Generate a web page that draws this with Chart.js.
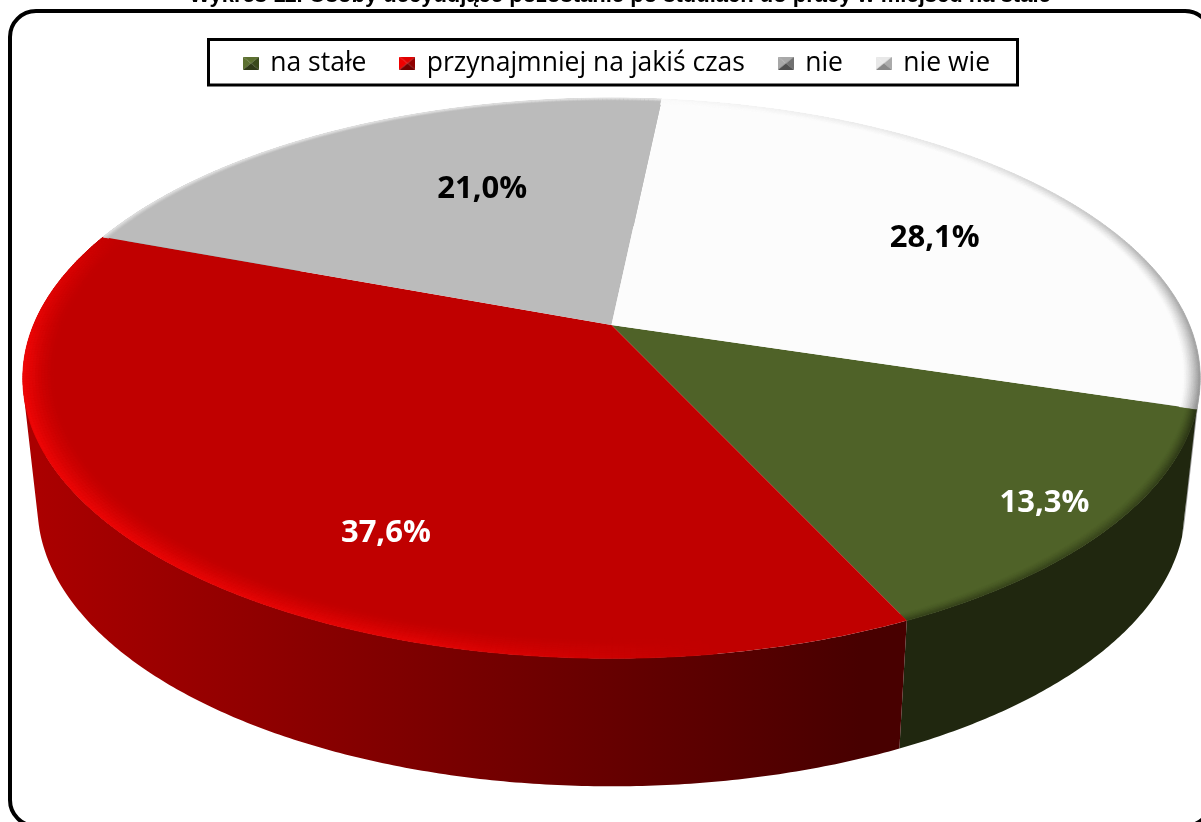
<!DOCTYPE html>
<html>
<head>
<meta charset="utf-8">
<style>html,body{margin:0;padding:0;background:#fff;overflow:hidden}canvas{display:block}</style>
<script src="https://cdn.jsdelivr.net/npm/chart.js@4/dist/chart.umd.js"></script>
</head>
<body>
<canvas id="c" width="1201" height="822"></canvas>
<script>
const titleText = 'Wykres 11. Osoby decydujące pozostanie po studiach do pracy w miejscu na stałe';
const categories = ['na stałe', 'przynajmniej na jakiś czas', 'nie', 'nie wie'];
const shares = [13.3, 37.6, 21.0, 28.1];
const topColors = ['#4f6228', '#c00000', '#bbbbbb', '#fcfcfc'];
const labelColors = ['#ffffff', '#ffffff', '#000000', '#000000'];
const labelRadius = [0.882, 0.75, 0.617, 0.69];
const labelAngleShift = [0, -15.5, 8, 3];
const swatchColors = [
  ['#5c7030', '#2f3a18', '#3a4a1c', '#5c7030'],
  ['#f00000', '#700000', '#900000', '#e00000'],
  ['#a8a8a8', '#505050', '#707070', '#a8a8a8'],
  ['#e8e8e8', '#888888', '#aaaaaa', '#e8e8e8']
];
const rimStyle = [
  {width: .018, rgb: [32, 39, 15],   stops: [[0, .8], [.5, .5], [1, .55]]},
  {width: .05,  rgb: [255, 8, 8],    stops: [[0, 0], [.12, 0], [.3, .55], [.55, .7], [.8, .78], [.95, .4], [1, .1]]},
  {width: .012, rgb: [228, 228, 228], stops: [[0, .9], [1, .9]]},
  {width: .028, rgb: [125, 125, 125], stops: [[0, .02], [.4, .2], [.7, .6], [1, .85]]}
];

// Projection of the flat pie onto the tilted disc
const CX = 611.5, CY = 325, SX = 578, SY = 270, PERSP = -0.19;
const DISC_Y = 378, LOW_Y = 506, LOW_SX = .975;
function project(a, r) {
  const u = Math.cos(a) * r, v = Math.sin(a) * r, w = 1 + PERSP * v;
  return [CX + SX * u / w, CY + SY * v / w];
}
function projectLow(a) {
  const p = project(a, 1);
  return [CX + LOW_SX * (p[0] - CX), LOW_Y + (p[1] - DISC_Y)];
}
function quad(ctx, pts, fill) {
  ctx.beginPath();
  pts.forEach((p, i) => i ? ctx.lineTo(p[0], p[1]) : ctx.moveTo(p[0], p[1]));
  ctx.closePath();
  ctx.fillStyle = fill; ctx.strokeStyle = fill; ctx.lineWidth = .7;
  ctx.fill(); ctx.stroke();
}
function stopAt(stops, t) {
  for (let i = 1; i < stops.length; i++) {
    if (t <= stops[i][0]) {
      const k = (t - stops[i-1][0]) / (stops[i][0] - stops[i-1][0]);
      return stops[i-1][1] + k * (stops[i][1] - stops[i-1][1]);
    }
  }
  return stops[stops.length-1][1];
}
function hexRgb(h) { return [1, 3, 5].map(i => parseInt(h.substr(i, 2), 16)); }

const STEP = Math.PI / 360;
function segmentsOf(el) {
  const n = Math.max(2, Math.ceil((el.endAngle - el.startAngle) / STEP));
  const out = [];
  for (let i = 0; i < n; i++) out.push([
    el.startAngle + (el.endAngle - el.startAngle) * i / n,
    el.startAngle + (el.endAngle - el.startAngle) * (i + 1) / n, (i + .5) / n]);
  return out;
}
function drawSides(ctx, els) {
  const redGrad = ctx.createLinearGradient(40, 0, 860, 0);
  redGrad.addColorStop(0, '#aa0000'); redGrad.addColorStop(1, '#480000');
  const fills = ['#20270f', redGrad, '#6a6a6a', '#a0a0a0'];
  [2, 3, 0, 1].forEach(i => {
    ctx.beginPath();
    segmentsOf(els[i]).forEach(([a, b]) => {
      let q = [project(a, 1), project(b, 1), projectLow(b), projectLow(a)];
      let area = 0;
      q.forEach((p, k) => { const n = q[(k + 1) % 4]; area += p[0] * n[1] - n[0] * p[1]; });
      if (area < 0) q = q.reverse();
      q.forEach((p, k) => k ? ctx.lineTo(p[0], p[1]) : ctx.moveTo(p[0], p[1]));
      ctx.closePath();
    });
    ctx.fillStyle = fills[i];
    ctx.fill('nonzero');
  });
}
function drawTop(ctx, els) {
  els.forEach((el, i) => {
    const base = hexRgb(topColors[i]);
    ctx.beginPath();
    ctx.moveTo(CX, CY);
    segmentsOf(el).forEach(([a]) => { const p = project(a, 1); ctx.lineTo(p[0], p[1]); });
    const e = project(el.endAngle, 1); ctx.lineTo(e[0], e[1]);
    ctx.closePath();
    ctx.fillStyle = topColors[i]; ctx.fill();
    const rs = rimStyle[i], layers = 10;
    segmentsOf(el).forEach(([a, b, t]) => {
      const s = stopAt(rs.stops, t);
      if (s <= 0) return;
      for (let k = 0; k < layers; k++) {
        const r0 = 1 - rs.width * (1 - k / layers), r1 = 1 - rs.width * (1 - (k + 1) / layers);
        const f = Math.pow((k + .5) / layers, 1.3) * s;
        const c = base.map((v, j) => Math.round(v + (rs.rgb[j] - v) * f));
        quad(ctx, [project(a, r0), project(b, r0), project(b, r1), project(a, r1)], `rgb(${c[0]},${c[1]},${c[2]})`);
      }
    });
  });
}
function drawLabels(ctx, els) {
  ctx.font = 'bold 31px "Open Sans", sans-serif';
  ctx.textAlign = 'center'; ctx.textBaseline = 'middle';
  els.forEach((el, i) => {
    const mid = (el.startAngle + el.endAngle) / 2 + labelAngleShift[i] * Math.PI / 180;
    const p = project(mid, labelRadius[i]);
    ctx.fillStyle = labelColors[i];
    ctx.fillText(shares[i].toFixed(1).replace('.', ',') + '%', p[0] + 1, p[1] + 2);
  });
}
function swatch(cols) {
  const s = document.createElement('canvas'); s.width = 16; s.height = 13;
  const g = s.getContext('2d');
  const tri = (p, c) => { g.beginPath(); p.forEach((q, i) => i ? g.lineTo(q[0], q[1]) : g.moveTo(q[0], q[1])); g.closePath(); g.fillStyle = c; g.fill(); };
  tri([[0, 0], [16, 0], [8, 6.5]], cols[3]);
  tri([[0, 0], [0, 13], [8, 6.5]], cols[0]);
  tri([[16, 0], [16, 13], [8, 6.5]], cols[2]);
  tri([[0, 13], [16, 13], [8, 6.5]], cols[1]);
  return s;
}
const swatches = swatchColors.map(swatch);

const pie3d = {
  id: 'pie3d',
  beforeDraw(chart) {
    const ctx = chart.ctx;
    ctx.save();
    ctx.fillStyle = '#fff'; ctx.fillRect(0, 0, 1201, 822);
    ctx.fillStyle = '#000'; ctx.font = 'bold 22px "Liberation Sans", sans-serif';
    ctx.textAlign = 'center'; ctx.textBaseline = 'alphabetic';
    ctx.fillText(titleText, 620, 1.5);
    ctx.strokeStyle = '#000'; ctx.lineWidth = 4;
    ctx.beginPath(); ctx.roundRect(10, 11, 1201, 815, 26); ctx.stroke();
    ctx.lineWidth = 3; ctx.strokeRect(208.5, 39.5, 809, 45.5);
    ctx.restore();
  },
  beforeDatasetDraw(chart, args) {
    const ctx = chart.ctx, els = chart.getDatasetMeta(args.index).data;
    ctx.save();
    drawSides(ctx, els);
    drawTop(ctx, els);
    drawLabels(ctx, els);
    ctx.restore();
    return false;
  }
};

new Chart(document.getElementById('c'), {
  type: 'pie',
  plugins: [pie3d],
  data: { labels: categories, datasets: [{ data: shares, backgroundColor: topColors, borderWidth: 0 }] },
  options: {
    responsive: false, animation: false,
    rotation: 107.1,
    layout: { padding: { left: 34, top: 15 } },
    events: [],
    plugins: {
      tooltip: { enabled: false },
      legend: {
        position: 'top',
        labels: {
          color: '#000', padding: 35, boxWidth: 12, boxHeight: 13, usePointStyle: true, pointStyleWidth: 12,
          font: { family: '"Open Sans", sans-serif', size: 26.5 },
          generateLabels: () => categories.map((t, i) => ({ text: t, pointStyle: swatches[i], fontColor: '#000', datasetIndex: 0, index: i, lineWidth: 0 }))
        }
      }
    }
  }
});
</script>
</body>
</html>
